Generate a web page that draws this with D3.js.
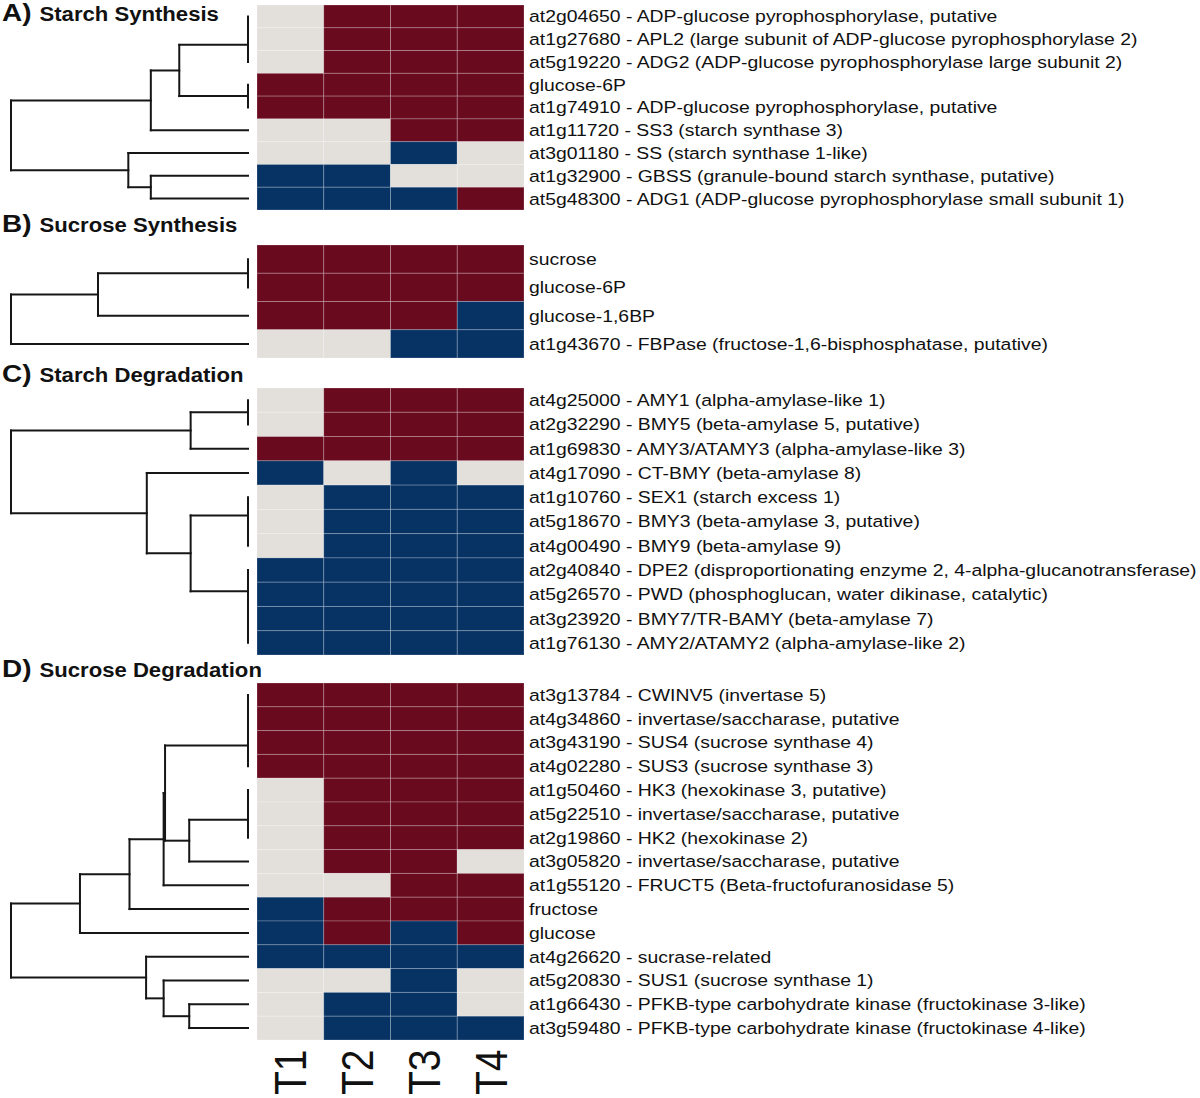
<!DOCTYPE html>
<html>
<head>
<meta charset="utf-8">
<script src="https://cdn.jsdelivr.net/npm/d3@7/dist/d3.min.js"></script>
<style>
  html, body { margin: 0; padding: 0; background: #fff; }
  svg { display: block; }
  text { font-family: "Liberation Sans", Arial, Helvetica, sans-serif; fill: #111; }
</style>
</head>
<body>
<script>
// ---------------- DATA ----------------
const timepoints = ["T1", "T2", "T3", "T4"];
const panelLetters = ["A)", "B)", "C)", "D)"];
const panelTitles = ["Starch Synthesis", "Sucrose Synthesis", "Starch Degradation", "Sucrose Degradation"];

// values: 1 = up (red), 0 = no change (grey), -1 = down (blue)
const labelsA = [
  "at2g04650 - ADP-glucose pyrophosphorylase, putative",
  "at1g27680 - APL2 (large subunit of ADP-glucose pyrophosphorylase 2)",
  "at5g19220 - ADG2 (ADP-glucose pyrophosphorylase large subunit 2)",
  "glucose-6P",
  "at1g74910 - ADP-glucose pyrophosphorylase, putative",
  "at1g11720 - SS3 (starch synthase 3)",
  "at3g01180 - SS (starch synthase 1-like)",
  "at1g32900 - GBSS (granule-bound starch synthase, putative)",
  "at5g48300 - ADG1 (ADP-glucose pyrophosphorylase small subunit 1)"
];
const valuesA = [
  [0, 1, 1, 1],
  [0, 1, 1, 1],
  [0, 1, 1, 1],
  [1, 1, 1, 1],
  [1, 1, 1, 1],
  [0, 0, 1, 1],
  [0, 0, -1, 0],
  [-1, -1, 0, 0],
  [-1, -1, -1, 1]
];
// tree nodes: [mergeHeight, left, right]; leaves are row indices
const treeA = [1.0, [0.41, [0.29, [0, [0, 0, 1], 2], [0, 3, 4]], 5], [0.505, 6, [0.41, 7, 8]]];

const labelsB = [
  "sucrose",
  "glucose-6P",
  "glucose-1,6BP",
  "at1g43670 - FBPase (fructose-1,6-bisphosphatase, putative)"
];
const valuesB = [
  [1, 1, 1, 1],
  [1, 1, 1, 1],
  [1, 1, 1, -1],
  [0, 0, -1, -1]
];
const treeB = [1.0, [0.633, [0, 0, 1], 2], 3];

const labelsC = [
  "at4g25000 - AMY1 (alpha-amylase-like 1)",
  "at2g32290 - BMY5 (beta-amylase 5, putative)",
  "at1g69830 - AMY3/ATAMY3 (alpha-amylase-like 3)",
  "at4g17090 - CT-BMY (beta-amylase 8)",
  "at1g10760 - SEX1 (starch excess 1)",
  "at5g18670 - BMY3 (beta-amylase 3, putative)",
  "at4g00490 - BMY9 (beta-amylase 9)",
  "at2g40840 - DPE2 (disproportionating enzyme 2, 4-alpha-glucanotransferase)",
  "at5g26570 - PWD (phosphoglucan, water dikinase, catalytic)",
  "at3g23920 - BMY7/TR-BAMY (beta-amylase 7)",
  "at1g76130 - AMY2/ATAMY2 (alpha-amylase-like 2)"
];
const valuesC = [
  [0, 1, 1, 1],
  [0, 1, 1, 1],
  [1, 1, 1, 1],
  [-1, 0, -1, 0],
  [0, -1, -1, -1],
  [0, -1, -1, -1],
  [0, -1, -1, -1],
  [-1, -1, -1, -1],
  [-1, -1, -1, -1],
  [-1, -1, -1, -1],
  [-1, -1, -1, -1]
];
const treeC = [1.0,
  [0.242, [0, 0, 1], 2],
  [0.427, 3, [0.242, [0, 4, [0, 5, 6]], [0, 7, [0, 8, [0, 9, 10]]]]]
];

const labelsD = [
  "at3g13784 - CWINV5 (invertase 5)",
  "at4g34860 - invertase/saccharase, putative",
  "at3g43190 - SUS4 (sucrose synthase 4)",
  "at4g02280 - SUS3 (sucrose synthase 3)",
  "at1g50460 - HK3 (hexokinase 3, putative)",
  "at5g22510 - invertase/saccharase, putative",
  "at2g19860 - HK2 (hexokinase 2)",
  "at3g05820 - invertase/saccharase, putative",
  "at1g55120 - FRUCT5 (Beta-fructofuranosidase 5)",
  "fructose",
  "glucose",
  "at4g26620 - sucrase-related",
  "at5g20830 - SUS1 (sucrose synthase 1)",
  "at1g66430 - PFKB-type carbohydrate kinase (fructokinase 3-like)",
  "at3g59480 - PFKB-type carbohydrate kinase (fructokinase 4-like)"
];
const valuesD = [
  [1, 1, 1, 1],
  [1, 1, 1, 1],
  [1, 1, 1, 1],
  [1, 1, 1, 1],
  [0, 1, 1, 1],
  [0, 1, 1, 1],
  [0, 1, 1, 1],
  [0, 1, 1, 0],
  [0, 0, 1, 1],
  [-1, 1, 1, 1],
  [-1, 1, -1, 1],
  [-1, -1, -1, -1],
  [0, 0, -1, 0],
  [0, -1, -1, 0],
  [0, -1, -1, -1]
];
const treeD = [1.0,
  [0.709, [0.50, [0.356, [0.350, [0, [0, [0, 0, 1], 2], 3], [0.248, [0, [0, 4, 5], 6], 7]], 8], 9], 10],
  [0.43, 11, [0.356, 12, [0.248, 13, 14]]]
];

// ---------------- LAYOUT ----------------
const W = 1200, H = 1098;
const SX = 1.14; // horizontal stretch of the original figure
const panels = [
  { labels: labelsA, values: valuesA, tree: treeA, top: 5, bottom: 210, titleY: 21 },
  { labels: labelsB, values: valuesB, tree: treeB, top: 245, bottom: 358, titleY: 232 },
  { labels: labelsC, values: valuesC, tree: treeC, top: 388, bottom: 655, titleY: 381.5 },
  { labels: labelsD, values: valuesD, tree: treeD, top: 683, bottom: 1040, titleY: 676.5 }
];

const colors = d3.scaleOrdinal().domain([-1, 0, 1]).range(["#063264", "#e3dfdb", "#690a1f"]);
const xCol = d3.scaleBand().domain(timepoints).range([257, 524]).paddingInner(0);
const xTree = d3.scaleLinear().domain([0, 1]).range([248, 11]);

const svg = d3.select("body").append("svg").attr("width", W).attr("height", H);

panels.forEach((p, pi) => {
  const rowIdx = d3.range(p.labels.length);
  const yRow = d3.scaleBand().domain(rowIdx).range([p.top, p.bottom]).paddingInner(0);
  const g = svg.append("g");

  // title
  g.append("text")
    .attr("transform", `translate(2,${p.titleY}) scale(${SX},1)`)
    .style("font-size", "24.5px").style("font-weight", "bold")
    .text(panelLetters[pi]);
  g.append("text")
    .attr("transform", `translate(39.5,${p.titleY}) scale(${SX},1)`)
    .style("font-size", "19.4px").style("font-weight", "bold")
    .text(panelTitles[pi]);

  // heatmap cells
  const cells = [];
  p.values.forEach((row, r) => row.forEach((v, c) => cells.push({ r, c, v })));
  g.append("g").selectAll("rect").data(cells).join("rect")
    .attr("x", d => xCol(timepoints[d.c]))
    .attr("y", d => yRow(d.r))
    .attr("width", xCol.bandwidth())
    .attr("height", yRow.bandwidth())
    .attr("fill", d => colors(d.v))
    .attr("stroke", "rgba(255,255,255,0.22)")
    .attr("stroke-width", 1);

  // row labels
  g.append("g").selectAll("text").data(rowIdx).join("text")
    .attr("transform", r => `translate(529,${yRow(r) + yRow.bandwidth() / 2}) scale(${SX},1)`)
    .attr("dy", "0.35em")
    .style("font-size", "17px")
    .text(r => p.labels[r]);

  // dendrogram
  const tg = g.append("g").attr("stroke", "#161616").attr("stroke-width", 2)
    .attr("fill", "none").attr("stroke-linecap", "square");
  function draw(node) {
    if (typeof node === "number") {
      return { x: xTree(0), y: yRow(node) + yRow.bandwidth() / 2 };
    }
    const [h, a, b] = node;
    const A = draw(a), B = draw(b);
    const x = xTree(h);
    const y = (A.y + B.y) / 2;
    tg.append("line").attr("x1", x).attr("x2", x).attr("y1", A.y).attr("y2", B.y);
    [A, B].forEach(ch => {
      if (ch.x > x) tg.append("line").attr("x1", x).attr("x2", ch.x).attr("y1", ch.y).attr("y2", ch.y);
    });
    return { x, y };
  }
  draw(p.tree);
});

// column labels (rotated)
svg.append("g").selectAll("text").data(timepoints).join("text")
  .attr("transform", d => `translate(${xCol(d) + xCol.bandwidth() / 2 + 16},1095) rotate(-90) scale(1,${SX})`)
  .style("font-size", "39px")
  .text(d => d);
</script>
</body>
</html>
